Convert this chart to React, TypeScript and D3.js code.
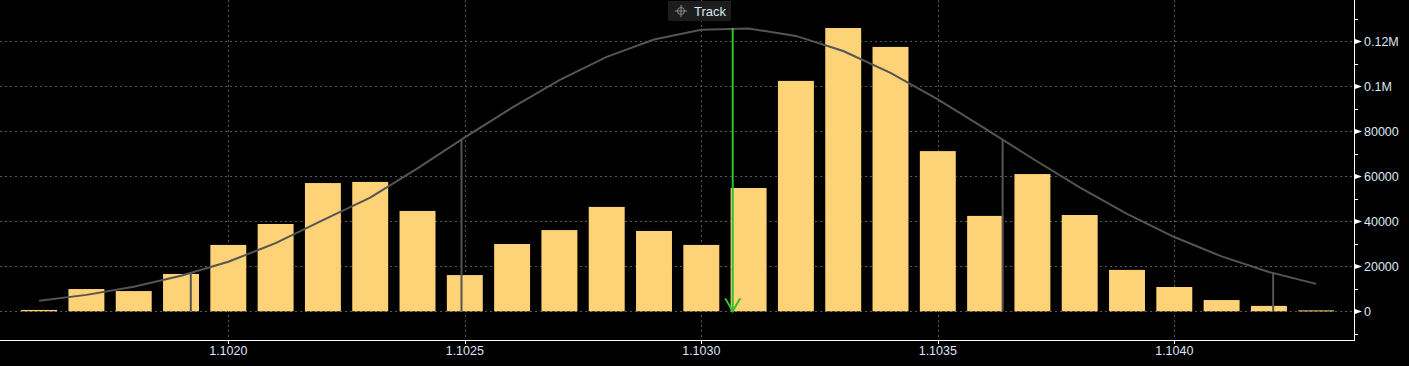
import React, { useEffect } from "react";
import * as d3 from "d3";

// price bins (centre of each 0.0001 bucket)
const binCenters = [
  1.1016, 1.1017, 1.1018, 1.1019, 1.102, 1.1021, 1.1022, 1.1023, 1.1024, 1.1025,
  1.1026, 1.1027, 1.1028, 1.1029, 1.103, 1.1031, 1.1032, 1.1033, 1.1034, 1.1035,
  1.1036, 1.1037, 1.1038, 1.1039, 1.104, 1.1041, 1.1042, 1.1043,
];
// volume traded in each bin
const volumes = [
  600, 9900, 9000, 16600, 29500, 38800, 57000, 57500, 44600, 16100,
  29900, 36100, 46400, 35700, 29500, 54800, 102400, 125900, 117500, 71200,
  42400, 61000, 42800, 18400, 10800, 5000, 2400, 400,
];
// fitted distribution, read at each bin centre
const curveValues = [
  4700, 7300, 10900, 15800, 22000, 30300, 40500, 50500, 63500, 77300,
  90500, 102700, 113100, 120800, 125100, 125700, 122400, 115700, 106000, 94200,
  81200, 67900, 55100, 43300, 33000, 24400, 17500, 12200,
];
// sigma markers (-2s, -1s, +1s, +2s)
const sigmaPrices = [1.1019207, 1.102493, 1.103637, 1.104209];
const sigmaValues = [17400, 76300, 76200, 17400];
// tracked price
const trackPrice = 1.1030664;
const trackValue = 125900;

const xTicks = [1.102, 1.1025, 1.103, 1.1035, 1.104];
const xTickLabels = ["1.1020", "1.1025", "1.1030", "1.1035", "1.1040"];
const yTicks = [0, 20000, 40000, 60000, 80000, 100000, 120000];
const yTickLabels = ["0", "20000", "40000", "60000", "80000", "0.1M", "0.12M"];
const yMinorTicks = [-10000, 10000, 30000, 50000, 70000, 90000, 110000, 130000];

const W = 1409;
const H = 366;
const plotRight = 1354;
const plotBottom = 340;

const App = () => {
  useEffect(() => {
    document.body.style.margin = "0";
    document.body.style.background = "#000";
  }, []);

  const x = d3.scaleLinear().domain([1.1015173, 1.1043799]).range([0, plotRight]);
  const y = d3.scaleLinear().domain([-12756, 138356]).range([plotBottom, 0]);

  const binW = x(1.1001) - x(1.1);
  const barW = binW * 0.76;

  const line = d3
    .line<number>()
    .x((d, i) => x(binCenters[i]))
    .y((d) => y(d));

  const gridColor = "#585858";
  const textColor = "#dce7f3";
  const font = "'Liberation Sans', Arial, sans-serif";
  const tx = x(trackPrice);
  const y0 = y(0);

  return (
    <svg width={W} height={H} style={{ display: "block", background: "#000" }}>
      <rect x={0} y={0} width={W} height={H} fill="#000" />

      {/* grid */}
      {yTicks.map((t) => (
        <line key={"gy" + t} x1={0} x2={plotRight} y1={Math.round(y(t)) + 0.5} y2={Math.round(y(t)) + 0.5}
          stroke={gridColor} strokeDasharray="2,3" />
      ))}
      {xTicks.map((t) => (
        <line key={"gx" + t} x1={Math.round(x(t)) + 0.5} x2={Math.round(x(t)) + 0.5} y1={0} y2={plotBottom}
          stroke={gridColor} strokeDasharray="2,3" />
      ))}

      {/* bars */}
      {volumes.map((v, i) => {
        const top = y(v);
        return (
          <rect key={"b" + i} x={x(binCenters[i]) - barW / 2} y={top} width={barW}
            height={Math.max(1, y0 - top)} fill="#fed276" />
        );
      })}

      {/* distribution curve */}
      <path d={line(curveValues) || ""} fill="none" stroke="#545454" strokeWidth={2} />

      {/* sigma lines */}
      {sigmaPrices.map((p, i) => (
        <line key={"s" + i} x1={x(p)} x2={x(p)} y1={y(sigmaValues[i])} y2={y0}
          stroke="#545454" strokeWidth={2} />
      ))}

      {/* track arrow */}
      <line x1={tx} x2={tx} y1={y(trackValue)} y2={y0} stroke="#2fc22f" strokeWidth={2} />
      <polyline points={`${tx - 7.5},${y0 - 13} ${tx},${y0} ${tx + 7.5},${y0 - 13}`}
        fill="none" stroke="#2fc22f" strokeWidth={2} />

      {/* track label */}
      <rect x={668} y={1} width={63} height={20} fill="#1d1d1d" />
      <g stroke="#8a8a8a" strokeWidth={1} fill="none">
        <circle cx={681} cy={11} r={3.5} />
        <line x1={675} x2={687} y1={11} y2={11} />
        <line x1={681} x2={681} y1={5} y2={17} />
      </g>
      <text x={694} y={15.5} fill={textColor} fontSize={13} fontFamily={font}>Track</text>

      {/* x axis */}
      <line x1={0} x2={plotRight + 1} y1={plotBottom + 0.5} y2={plotBottom + 0.5} stroke="#fff" />
      {xTicks.map((t, i) => (
        <g key={"xt" + t}>
          <line x1={Math.round(x(t)) + 0.5} x2={Math.round(x(t)) + 0.5} y1={plotBottom} y2={plotBottom + 4} stroke="#fff" />
          <text x={x(t)} y={355} textAnchor="middle" fill={textColor} fontSize={12.5} fontFamily={font}>
            {xTickLabels[i]}
          </text>
        </g>
      ))}

      {/* y axis (right) */}
      <line x1={plotRight + 0.5} x2={plotRight + 0.5} y1={0} y2={plotBottom + 1} stroke="#fff" />
      {yMinorTicks.map((t) => (
        <line key={"ym" + t} x1={plotRight} x2={plotRight + 4} y1={Math.round(y(t)) + 0.5} y2={Math.round(y(t)) + 0.5} stroke="#fff" />
      ))}
      {yTicks.map((t, i) => {
        const yy = Math.round(y(t)) + 0.5;
        return (
          <g key={"yt" + t}>
            <path d={`M${plotRight + 1},${yy - 2.5} L${plotRight + 8},${yy} L${plotRight + 1},${yy + 2.5} Z`} fill="#fff" />
            <text x={1364} y={yy} dy="0.35em" fill={textColor} fontSize={12.5} fontFamily={font}>
              {yTickLabels[i]}
            </text>
          </g>
        );
      })}
    </svg>
  );
};

export default App;
